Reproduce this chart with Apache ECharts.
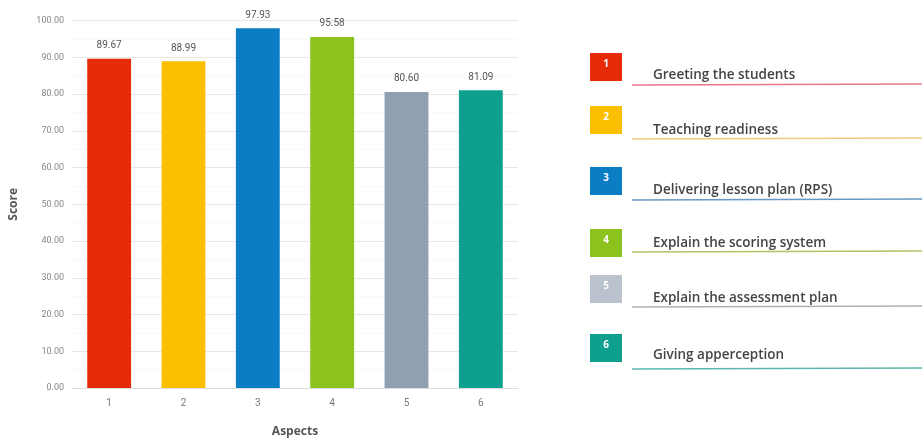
<!DOCTYPE html>
<html>
<head>
<meta charset="utf-8">
<script src="https://cdn.jsdelivr.net/npm/echarts@6/dist/echarts.min.js"></script>
<style>
html,body{margin:0;padding:0;background:#fff;}
#chart{width:922px;height:443px;}
</style>
</head>
<body>
<div id="chart"></div>
<script>
const categories = ['1','2','3','4','5','6'];
const scores = [89.67, 88.99, 97.93, 95.58, 80.60, 81.09];
const aspectNames = ['Greeting the students','Teaching readiness','Delivering lesson plan (RPS)','Explain the scoring system','Explain the assessment plan','Giving apperception'];
const colors = ['#E52B07','#FBBF02','#0B7DC5','#8CC21E','#B9C2CD','#0E9F8F'];
const yTicks = {min:0, max:100, interval:10};

// legend layout (decoration)
const sqCenters = [67,120,181,243,289,348];
const textCenters = [75,130,190,243,298,355];
const lineYs = [85,139,200,252,307,369];
const lineColors = ['#E5607A','#E9C46A','#4F86B8','#9DBB4A','#9AA3AA','#3FA99C'];

const graphics = [];
aspectNames.forEach((name,i)=>{
  graphics.push({type:'rect', shape:{x:590, y:sqCenters[i]-14, width:32, height:28},
    style:{fill:colors[i]}});
  graphics.push({type:'text', x:606, y:sqCenters[i]-3, style:{text:categories[i], fill:'#fff', font:'bold 10px "Open Sans", sans-serif', textAlign:'center', textVerticalAlign:'middle'}});
  graphics.push({type:'text', x:653, y:textCenters[i], style:{text:name, fill:'#444', font:'600 13.5px "Open Sans", sans-serif', textVerticalAlign:'middle'}});
  graphics.push({type:'line', shape:{x1:632, y1:lineYs[i], x2:922, y2:lineYs[i]-1},
    style:{stroke:lineColors[i], lineWidth:1.3, opacity:0.85}});
});

const chart = echarts.init(document.getElementById('chart'));
chart.setOption({
  backgroundColor:'#fff',
  animation:false,
  grid:{left:72, right:404, top:20.7, bottom:49.7, containLabel:false},
  xAxis:{type:'category', data:categories,
    name:'Aspects', nameLocation:'middle', nameGap:38,
    nameTextStyle:{fontSize:12, fontWeight:'bold', color:'#555', fontFamily:'Open Sans'},
    axisLine:{lineStyle:{color:'#ddd'}},
    axisTick:{show:false},
    axisLabel:{fontSize:10, color:'#777', margin:10, fontFamily:'Roboto'}},
  yAxis:{type:'value', min:yTicks.min, max:yTicks.max, interval:yTicks.interval,
    name:'Score', nameLocation:'middle', nameGap:52,
    nameTextStyle:{fontSize:12, fontWeight:'bold', color:'#555', fontFamily:'Open Sans'},
    axisLine:{show:false}, axisTick:{show:false},
    axisLabel:{fontSize:9, color:'#888', formatter:v=>v.toFixed(2), margin:8, fontFamily:'Roboto'},
    splitLine:{lineStyle:{color:'#e6e6e6'}},
    minorTick:{show:false, splitNumber:2},
    minorSplitLine:{show:true, lineStyle:{color:'#f3f3f3', type:'dotted'}}},
  series:[{type:'bar', data:scores.map((v,i)=>({value:v, itemStyle:{color:i===4?'#919FB3':colors[i]}})),
    barWidth:'59%',
    label:{show:true, position:'top', distance:8, fontSize:10, color:'#555', fontFamily:'Roboto', formatter:p=>p.value.toFixed(2)}}],
  graphic:graphics
});
</script>
</body>
</html>
